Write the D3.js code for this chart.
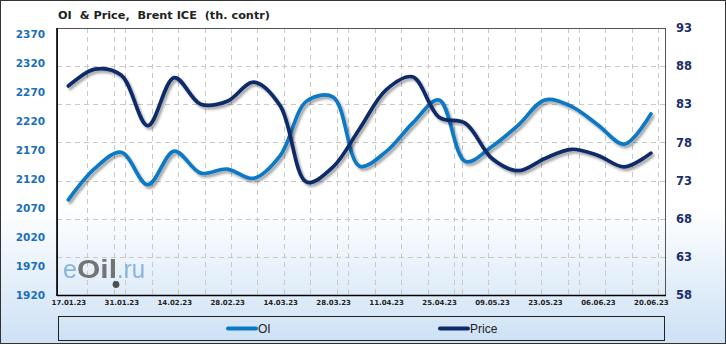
<!DOCTYPE html>
<html><head><meta charset="utf-8">
<script src="https://cdn.jsdelivr.net/npm/d3@7"></script>
<style>html,body{margin:0;padding:0;background:#fff;overflow:hidden}</style>
</head><body>
<svg id="c" width="726" height="345"></svg>
<script>
// ---- data ----
const dates = ["2023-01-17","2023-01-24","2023-01-31","2023-02-07","2023-02-14","2023-02-21","2023-02-28",
  "2023-03-07","2023-03-14","2023-03-21","2023-03-28","2023-04-04","2023-04-11","2023-04-18","2023-04-25",
  "2023-05-02","2023-05-09","2023-05-16","2023-05-23","2023-05-30","2023-06-06","2023-06-13","2023-06-20"];
const oiValues = [2084,2138,2166,2110,2168,2130,2137,2121,2160,2254,2261,2142,2167,2216,2256,2150,2176,2213,2256,2245,2213,2180,2232];
const priceValues = [85.4,87.6,86.8,80.2,86.5,83.0,83.4,85.9,82.8,72.8,74.8,79.8,84.9,86.6,81.3,80.5,75.9,74.3,75.9,77.1,76.3,74.8,76.6];
const leftTickValues = [2370,2320,2270,2220,2170,2120,2070,2020,1970,1920];
const rightTickValues = [93,88,83,78,73,68,63,58];
const xTickLabels = ["17.01.23","31.01.23","14.02.23","28.02.23","14.03.23","28.03.23","11.04.23","25.04.23","09.05.23","23.05.23","06.06.23","20.06.23"];
const seriesNames = ["OI","Price"];
const titleText = "OI  & Price,  Brent ICE  (th. contr)";

// ---- layout ----
const W = 726, H = 345;
const L = 57, R = 666, T = 28, B = 295;
const oiColor = "#0b78c4", priceColor = "#0c2a69";
const parse = d3.utcParse("%Y-%m-%d");
const parseLbl = d3.utcParse("%d.%m.%y");
const fmtLbl = d3.utcFormat("%d.%m.%y");

const svg = d3.select("#c");
const defs = svg.append("defs");
const bg = defs.append("linearGradient").attr("id","bg").attr("x1",0).attr("y1",0).attr("x2",0).attr("y2",1);
bg.append("stop").attr("offset","0").attr("stop-color","#ffffff");
bg.append("stop").attr("offset","0.6").attr("stop-color","#ffffff");
bg.append("stop").attr("offset","1").attr("stop-color","#cde1f5");
const sh = defs.append("filter").attr("id","sh").attr("x","-5%").attr("y","-10%").attr("width","115%").attr("height","130%");
sh.append("feDropShadow").attr("dx",2).attr("dy",2.5).attr("stdDeviation",1.3)
  .attr("flood-color","#000").attr("flood-opacity",0.35);

svg.append("rect").attr("x",0.5).attr("y",0.5).attr("width",W-1).attr("height",H-2)
  .attr("fill","url(#bg)").attr("stroke","#333").attr("stroke-width",1);

const x = d3.scaleUtc().domain([parse("2023-01-14"), parse("2023-06-24")]).range([L, R]);
const yL = d3.scaleLinear().domain([1920, 2380]).range([B, T]);
const yR = d3.scaleLinear().domain([58, 93]).range([B, T]);

// grid
const gridG = svg.append("g");
const vDays = d3.utcDay.every(7).range(parse("2023-01-21"), parse("2023-06-24"));
gridG.selectAll("line.v").data(vDays).join("line")
  .attr("x1", d => Math.round(x(d))+0.5).attr("x2", d => Math.round(x(d))+0.5)
  .attr("y1", T).attr("y2", B)
  .attr("stroke","#c8c8c8").attr("stroke-dasharray","5,4");
gridG.selectAll("line.h").data(rightTickValues.slice(1,-1)).join("line")
  .attr("x1", L).attr("x2", R)
  .attr("y1", d => Math.round(yR(d))+0.5).attr("y2", d => Math.round(yR(d))+0.5)
  .attr("stroke","#c8c8c8").attr("stroke-dasharray","5,4");

// watermark
const wmG = svg.append("g").style("opacity",0.8).style("font-family","'Liberation Sans', Arial, sans-serif");
wmG.append("text").attr("x",63).attr("y",278).attr("fill","#6fa6d8").style("font-size","25px")
  .attr("textLength",14).attr("lengthAdjust","spacingAndGlyphs").text("e");
wmG.append("text").attr("x",77).attr("y",278).attr("fill","#555").style("font-size","25px").style("font-weight","bold")
  .attr("textLength",40).attr("lengthAdjust","spacingAndGlyphs").text("Oil");
wmG.append("text").attr("x",117).attr("y",278).attr("fill","#6fa6d8").style("font-size","25px")
  .attr("textLength",28).attr("lengthAdjust","spacingAndGlyphs").text(".ru");
svg.append("circle").attr("cx",116).attr("cy",284.5).attr("r",3.4).attr("fill","#333").attr("opacity",0.85);

// plot border
svg.append("rect").attr("x",L+0.5).attr("y",T+0.5).attr("width",R-L-1).attr("height",B-T)
  .attr("fill","none").attr("stroke","#555").attr("stroke-width",1);
svg.append("line").attr("x1",L).attr("x2",L).attr("y1",T).attr("y2",B+1).attr("stroke","#000").attr("stroke-width",1.6);
svg.append("line").attr("x1",L).attr("x2",R).attr("y1",B+0.5).attr("y2",B+0.5).attr("stroke","#000").attr("stroke-width",1.4);

// lines
const pts = dates.map(parse);
const curve = d3.curveCatmullRom.alpha(0.5);
const lineOI = d3.line().x((d,i) => x(pts[i])).y(d => yL(d)).curve(curve);
const linePr = d3.line().x((d,i) => x(pts[i])).y(d => yR(d)).curve(curve);
svg.append("path").attr("d", lineOI(oiValues)).attr("fill","none").attr("stroke",oiColor)
  .attr("stroke-width",3.7).attr("stroke-linecap","round").attr("filter","url(#sh)");
svg.append("path").attr("d", linePr(priceValues)).attr("fill","none").attr("stroke",priceColor)
  .attr("stroke-width",3.7).attr("stroke-linecap","round").attr("filter","url(#sh)");

// axes
const axL = svg.append("g").attr("transform",`translate(${L-12},0)`)
  .call(d3.axisLeft(yL).tickValues(leftTickValues).tickSize(0).tickPadding(0).tickFormat(d3.format("d")));
axL.select(".domain").remove();
axL.selectAll("text").attr("fill","#1a6fbd").style("font-family","'DejaVu Sans', Verdana, sans-serif")
  .style("font-size","10.5px").style("font-weight","bold");

const axR = svg.append("g").attr("transform",`translate(${676},0)`)
  .call(d3.axisRight(yR).tickValues(rightTickValues).tickSize(0).tickPadding(0).tickFormat(d3.format("d")));
axR.select(".domain").remove();
axR.selectAll("text").attr("fill","#1b2d6b").style("font-family","'DejaVu Sans', Verdana, sans-serif")
  .style("font-size","11.5px").style("font-weight","bold");

const axB = svg.append("g").attr("transform",`translate(0,${B})`)
  .call(d3.axisBottom(x).tickValues(xTickLabels.map(parseLbl)).tickSize(0).tickPadding(5).tickFormat(fmtLbl));
axB.select(".domain").remove();
axB.selectAll("text").attr("fill","#222").style("font-family","'DejaVu Sans', Verdana, sans-serif")
  .style("font-size","7px").style("font-weight","bold");

// title
const title = svg.append("text").attr("x",58).attr("y",19).attr("fill","#222")
  .style("font-family","'DejaVu Sans', Verdana, sans-serif").style("font-size","11px").style("font-weight","bold")
  .style("white-space","pre").attr("xml:space","preserve").text(titleText);
const tw = title.node().getComputedTextLength();
if (Math.abs(tw - 212) > 3) title.attr("textLength",212).attr("lengthAdjust","spacingAndGlyphs");

// legend
svg.append("rect").attr("x",58.5).attr("y",316.5).attr("width",606).attr("height",24)
  .attr("fill","none").attr("stroke","#222").attr("stroke-width",1);
const legX = [228, 440];
const legColors = [oiColor, priceColor];
seriesNames.forEach((n,i) => {
  svg.append("line").attr("x1",legX[i]).attr("x2",legX[i]+28).attr("y1",328.5).attr("y2",328.5)
    .attr("stroke",legColors[i]).attr("stroke-width",4).attr("stroke-linecap","round");
  svg.append("text").attr("x",legX[i]+30).attr("y",332.5).attr("fill","#222")
    .style("font-family","'Liberation Sans', Arial, sans-serif").style("font-size","12px").text(n);
});
</script>
</body></html>
